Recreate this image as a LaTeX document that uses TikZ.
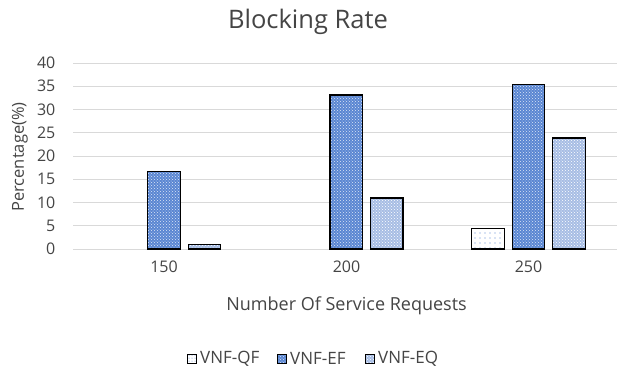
\documentclass[tikz,border=0pt]{standalone}
\usepackage{fontspec}
\setmainfont{Open Sans}
\usetikzlibrary{patterns,patterns.meta}
\definecolor{txt}{HTML}{454545}
\definecolor{gridc}{HTML}{D9D9D9}
\definecolor{efc}{HTML}{5A86D2}
\definecolor{eqc}{HTML}{A7BDE4}
\definecolor{qfdot}{HTML}{5F86D0}
\tikzset{
  lbl/.style={text=txt, inner sep=0pt},
  efbar/.style={preaction={fill=efc}, pattern=crosshatch dots, pattern color=white!80!efc, draw=black, line width=1.3pt},
  eqbar/.style={preaction={fill=eqc}, pattern=crosshatch dots, pattern color=white, draw=black, line width=1.3pt},
  qfbar/.style={preaction={fill=white}, pattern={Dots[radius=0.7pt, distance=5pt]}, pattern color=qfdot, draw=black, line width=1.3pt},
  gridline/.style={draw=gridc, line width=0.9pt},
}
\newcommand{\bh}[1]{124+#1*4.65}
\begin{document}
\begin{tikzpicture}[x=1pt,y=1pt]
\useasboundingbox (0,0) rectangle (617,373);
\fill[white] (0,0) rectangle (617,373);
% grid
\foreach \k in {1,...,8} {
  \draw[gridline] (73,{124+\k*23.25}) -- (617,{124+\k*23.25});
}
\draw[gridline] (73,124) -- (617,124);
% ticks
\foreach \k in {0,...,8} {
  \pgfmathtruncatemacro{\tv}{\k*5}
  \node[lbl, anchor=east, font=\fontsize{16}{16}\selectfont] (t\k) at (55.5,{124+\k*23.25}) {\tv};
}
% 150
\draw[efbar] (147.7,124) rectangle (180.2,{\bh{16.7}});
\draw[eqbar] (188.2,124) rectangle (220.7,{\bh{1.0}});
% 200
\draw[efbar] (330,124) rectangle (362.5,{\bh{33.1}});
\draw[eqbar] (370.5,124) rectangle (403,{\bh{11.0}});
% 250
\draw[qfbar] (471.8,124) rectangle (504.3,{\bh{4.45}});
\draw[efbar] (512.3,124) rectangle (544.8,{\bh{35.4}});
\draw[eqbar] (552.8,124) rectangle (585.3,{\bh{23.9}});
% category labels
\node[lbl, font=\fontsize{16}{16}\selectfont] (c1) at (164,106) {150};
\node[lbl, font=\fontsize{16}{16}\selectfont] (c2) at (346.5,106) {200};
\node[lbl, font=\fontsize{16}{16}\selectfont] (c3) at (528.5,106) {250};
% axis titles
\node[lbl, font=\fontsize{18}{18}\selectfont] (xt) at (346.5,67) {Number Of Service Requests};
\node[lbl, rotate=90, font=\fontsize{16.5}{16.5}\selectfont] (yt) at (20,216) {Percentage(\%)};
\node[lbl, font=\fontsize{25.5}{25.5}\selectfont] (title) at (308,351) {Blocking Rate};
% legend
\draw[qfbar, line width=0.9pt, pattern={Dots[radius=0.5pt, distance=3pt]}] (187,9.5) rectangle (196,19);
\node[lbl, anchor=west, font=\fontsize{17}{17}\selectfont] (l1) at (200,14.5) {VNF-QF};
\draw[efbar, line width=0.9pt] (277.5,9.5) rectangle (286.5,19);
\node[lbl, anchor=west, font=\fontsize{17}{17}\selectfont] (l2) at (290,14.5) {VNF-EF};
\draw[eqbar, line width=0.9pt] (365.5,9.5) rectangle (374.5,19);
\node[lbl, anchor=west, font=\fontsize{17}{17}\selectfont] (l3) at (378,14.5) {VNF-EQ};
\end{tikzpicture}
\end{document}
